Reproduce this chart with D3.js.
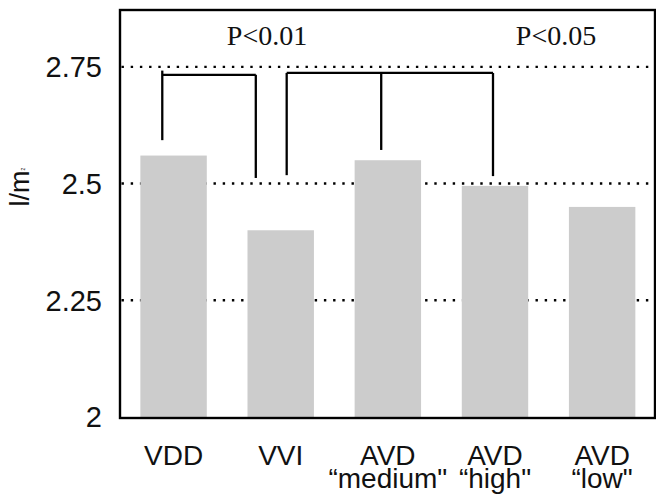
<!doctype html>
<html>
  <head>
    <meta charset="utf-8">
    <script src="https://cdn.jsdelivr.net/npm/d3@7"></script>
    <style>
      body { margin: 0; background: #fff; }
      text { fill: #111; }
      .tick-label, .cat-label, .y-title { font-family: "Liberation Sans", Arial, sans-serif; }
      .pval { font-family: "Liberation Serif", "Times New Roman", serif; font-size: 28px; }
    </style>
  </head>
  <body>
    <div id="chart"></div>
    <script>
      // data
      var categories = ["VDD", "VVI", "AVD medium", "AVD high", "AVD low"];
      var catLines = [["VDD"], ["VVI"], ["AVD", "\u201cmedium\""], ["AVD", "\u201chigh\""], ["AVD", "\u201clow\""]];
      var values = [2.56, 2.40, 2.55, 2.495, 2.45];
      var yTicks = [2, 2.25, 2.5, 2.75];
      var yTickLabels = ["2", "2.25", "2.5", "2.75"];
      var gridValues = [2.25, 2.5, 2.75];

      // significance brackets: bar + fraction across the bar, y values in data units
      var brackets = [
        { top: 2.733, label: "P<0.01",
          legs: [{ cat: "VDD", f: 0.33, from: 2.742, to: 2.593 },
                 { cat: "VVI", f: 0.125, from: 2.733, to: 2.512 }] },
        { top: 2.737, label: "P<0.05",
          legs: [{ cat: "VVI", f: 0.59, from: 2.737, to: 2.518 },
                 { cat: "AVD medium", f: 0.40, from: 2.737, to: 2.572 },
                 { cat: "AVD high", f: 0.47, from: 2.737, to: 2.516 }] }
      ];

      var W = 656, H = 495;
      var frameL = 120, frameR = 655, frameT = 10, frameB = 418;

      var svg = d3.select("#chart").append("svg")
        .attr("width", W)
        .attr("height", H);

      var x = d3.scaleBand()
        .domain(categories)
        .range([frameL, 655.7])
        .paddingInner(0.38)
        .paddingOuter(0.19);

      var y = d3.scaleLinear()
        .domain([2, 2.875])
        .range([417, 8.5]);

      // dotted grid lines (behind bars)
      svg.selectAll(".grid")
        .data(gridValues)
        .enter().append("line")
        .attr("class", "grid")
        .attr("x1", frameL + 1.5)
        .attr("x2", frameR)
        .attr("y1", function(d) { return y(d); })
        .attr("y2", function(d) { return y(d); })
        .style("stroke", "#000")
        .style("stroke-width", 2.4)
        .style("stroke-dasharray", "2.4,6.8");

      // bars
      svg.selectAll(".bar")
        .data(values)
        .enter().append("rect")
        .attr("class", "bar")
        .attr("x", function(d, i) { return x(categories[i]); })
        .attr("width", x.bandwidth())
        .attr("y", function(d) { return y(d); })
        .attr("height", function(d) { return y(2) - y(d); })
        .style("fill", "#cccccc");

      // frame
      svg.append("rect")
        .attr("x", frameL)
        .attr("y", frameT)
        .attr("width", frameR - frameL)
        .attr("height", frameB - frameT)
        .style("fill", "none")
        .style("stroke", "#000")
        .style("stroke-width", 2.4);

      // y tick labels
      svg.selectAll(".tick-label")
        .data(yTicks)
        .enter().append("text")
        .attr("class", "tick-label")
        .attr("x", 102)
        .attr("y", function(d) { return y(d); })
        .attr("dy", "0.36em")
        .attr("text-anchor", "end")
        .style("font-size", "29px")
        .text(function(d, i) { return yTickLabels[i]; });

      // y title l/m with tiny superscript
      var yt = svg.append("text")
        .attr("class", "y-title")
        .attr("transform", "translate(29,187) rotate(-90)")
        .attr("text-anchor", "middle")
        .style("font-size", "27px");
      yt.append("tspan").text("l/m");
      yt.append("tspan").attr("dy", "-0.8em").style("font-size", "5px").text("2");

      // category labels
      var cl = svg.selectAll(".cat-label")
        .data(categories)
        .enter().append("text")
        .attr("class", "cat-label")
        .attr("text-anchor", "middle")
        .style("font-size", "28px")
        .attr("transform", function(d) { return "translate(" + (x(d) + x.bandwidth() / 2) + ",465)"; });
      cl.selectAll("tspan")
        .data(function(d, i) { return catLines[i]; })
        .enter().append("tspan")
        .attr("x", 0)
        .attr("y", function(d, j) { return j * 23; })
        .text(function(d) { return d; });

      // brackets
      function bx(leg) { return x(leg.cat) + leg.f * x.bandwidth(); }
      brackets.forEach(function(b) {
        var xs = b.legs.map(bx);
        svg.append("line")
          .attr("x1", d3.min(xs)).attr("x2", d3.max(xs))
          .attr("y1", y(b.top)).attr("y2", y(b.top))
          .style("stroke", "#000").style("stroke-width", 2.3);
        svg.selectAll(null)
          .data(b.legs)
          .enter().append("line")
          .attr("x1", bx).attr("x2", bx)
          .attr("y1", function(d) { return y(d.from); })
          .attr("y2", function(d) { return y(d.to); })
          .style("stroke", "#000").style("stroke-width", 2.3);
      });

      // p-value labels
      svg.append("text").attr("class", "pval")
        .attr("x", 267).attr("y", 45).attr("text-anchor", "middle")
        .text(brackets[0].label);
      svg.append("text").attr("class", "pval")
        .attr("x", 556).attr("y", 45).attr("text-anchor", "middle")
        .text(brackets[1].label);
    </script>
  </body>
</html>
